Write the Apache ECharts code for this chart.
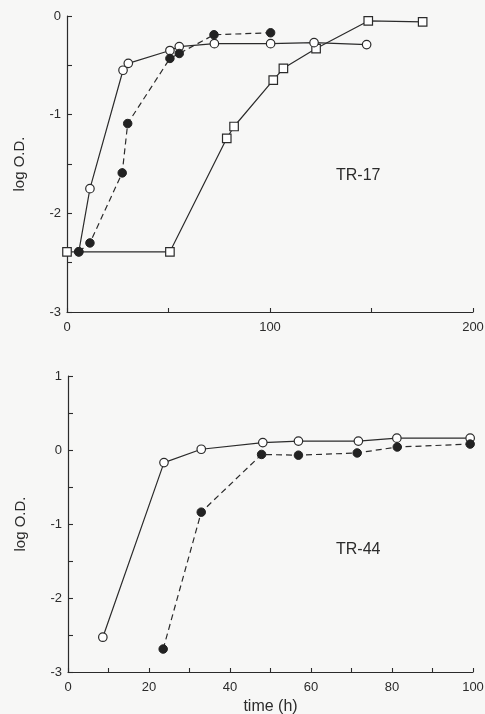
<!DOCTYPE html>
<html>
<head>
<meta charset="utf-8">
<title>TR-17 / TR-44</title>
<script src="https://cdn.jsdelivr.net/npm/echarts@6/dist/echarts.min.js"></script>
<style>
  html, body { margin: 0; padding: 0; background: #f7f7f6; }
  #chart { width: 485px; height: 714px; }
</style>
</head>
<body>
<div id="chart"></div>
<script>
// TR-17 (top panel), time in h, log O.D.
const tr17OpenT = [5.8, 11.3, 27.6, 30.2, 50.7, 55.3, 72.6, 100.3, 121.7, 147.6];
const tr17OpenY = [-2.39, -1.75, -0.55, -0.48, -0.35, -0.31, -0.28, -0.28, -0.27, -0.29];
const tr17FilledT = [5.8, 11.3, 27.2, 29.9, 50.7, 55.3, 72.4, 100.3];
const tr17FilledY = [-2.39, -2.30, -1.59, -1.09, -0.43, -0.38, -0.19, -0.17];
const tr17SquareT = [0, 50.7, 78.7, 82.3, 101.6, 106.6, 122.7, 148.4, 175.2];
const tr17SquareY = [-2.39, -2.39, -1.24, -1.12, -0.65, -0.53, -0.33, -0.05, -0.06];

// TR-44 (bottom panel)
const tr44OpenT = [8.6, 23.7, 32.9, 48.1, 56.9, 71.7, 81.2, 99.3];
const tr44OpenY = [-2.53, -0.17, 0.01, 0.10, 0.12, 0.12, 0.16, 0.16];
const tr44FilledT = [23.5, 32.9, 47.8, 56.9, 71.4, 81.3, 99.3];
const tr44FilledY = [-2.69, -0.84, -0.06, -0.07, -0.04, 0.04, 0.08];

const topXLabels = [0, 100, 200];
const bottomXLabels = [0, 20, 40, 60, 80, 100];
const topYLabels = [0, -1, -2, -3];
const bottomYLabels = [1, 0, -1, -2, -3];

const ink = "#2b2b2b";
const font = "Liberation Sans";

function pairs(xs, ys) {
  return xs.map((x, i) => [x, ys[i]]);
}

function xAxis(idx, max, interval, labels, name) {
  return {
    type: "value",
    gridIndex: idx,
    min: 0,
    max: max,
    interval: interval,
    name: name || "",
    nameLocation: "middle",
    nameGap: 27,
    nameTextStyle: { color: ink, fontSize: 16, fontFamily: font },
    axisLine: { onZero: false, lineStyle: { color: ink, width: 1.2 } },
    axisTick: { inside: true, length: 4, lineStyle: { color: ink, width: 1.1 } },
    axisLabel: {
      margin: 9,
      color: ink,
      fontSize: 13,
      fontFamily: font,
      formatter: (v) => (labels.indexOf(v) >= 0 ? String(v) : ""),
    },
    splitLine: { show: false },
  };
}

function yAxis(idx, min, max, labels) {
  return {
    type: "value",
    gridIndex: idx,
    min: min,
    max: max,
    interval: 0.5,
    name: "log O.D.",
    nameLocation: "middle",
    nameGap: 40,
    nameTextStyle: { color: ink, fontSize: 15, fontFamily: font },
    axisLine: { show: true, onZero: false, lineStyle: { color: ink, width: 1.2 } },
    axisTick: { show: true, inside: true, length: 5, lineStyle: { color: ink, width: 1.1 } },
    axisLabel: {
      margin: 6,
      color: ink,
      fontSize: 13,
      fontFamily: font,
      formatter: (v) => (labels.indexOf(v) >= 0 ? String(v) : ""),
    },
    splitLine: { show: false },
  };
}

function openSeries(idx, data, symbol) {
  return {
    type: "line",
    xAxisIndex: idx,
    yAxisIndex: idx,
    data: data,
    symbol: symbol,
    symbolSize: 8.5,
    showAllSymbol: true,
    lineStyle: { color: ink, width: 1.2 },
    itemStyle: { color: "#ffffff", borderColor: ink, borderWidth: 1.2 },
    emphasis: { disabled: true },
  };
}

function filledSeries(idx, data) {
  return {
    type: "line",
    xAxisIndex: idx,
    yAxisIndex: idx,
    data: data,
    symbol: "circle",
    symbolSize: 8.5,
    showAllSymbol: true,
    lineStyle: { color: ink, width: 1.2, type: [6, 4] },
    itemStyle: { color: "#222222", borderColor: "#222222", borderWidth: 1 },
    emphasis: { disabled: true },
  };
}

const chart = echarts.init(document.getElementById("chart"));

const options = {
  backgroundColor: "#f7f7f6",
  animation: false,
  grid: [
    { left: 67, top: 16, width: 406, height: 296, outerBoundsMode: "none" },
    { left: 68, top: 376, width: 405, height: 296, outerBoundsMode: "none" },
  ],
  xAxis: [
    xAxis(0, 200, 50, topXLabels),
    xAxis(1, 100, 10, bottomXLabels, "time (h)"),
  ],
  yAxis: [
    yAxis(0, -3, 0, topYLabels),
    yAxis(1, -3, 1, bottomYLabels),
  ],
  graphic: [
    {
      type: "text",
      left: 336,
      top: 168,
      style: { text: "TR-17", fill: ink, fontSize: 16, fontFamily: font, align: "center", verticalAlign: "middle" },
    },
    {
      type: "text",
      left: 336,
      top: 542,
      style: { text: "TR-44", fill: ink, fontSize: 16, fontFamily: font, align: "center", verticalAlign: "middle" },
    },
  ],
  series: [
    openSeries(0, pairs(tr17SquareT, tr17SquareY), "rect"),
    openSeries(0, pairs(tr17OpenT, tr17OpenY), "circle"),
    filledSeries(0, pairs(tr17FilledT, tr17FilledY)),
    openSeries(1, pairs(tr44OpenT, tr44OpenY), "circle"),
    filledSeries(1, pairs(tr44FilledT, tr44FilledY)),
  ],
};

chart.setOption(options);
</script>
</body>
</html>
